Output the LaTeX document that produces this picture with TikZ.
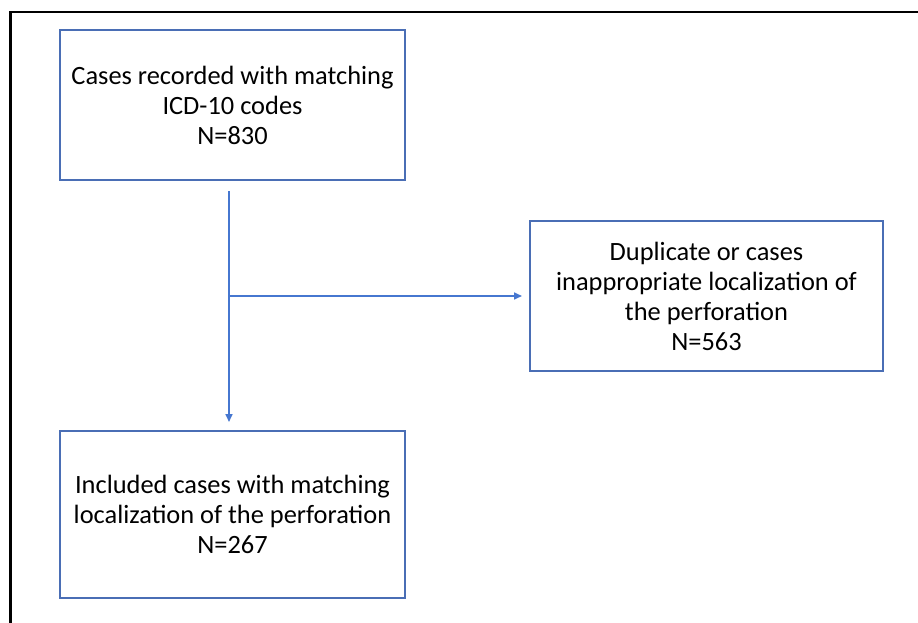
\documentclass[tikz,border=0pt]{standalone}
\usepackage{fontspec}
\setmainfont{Carlito}
\usetikzlibrary{arrows.meta}
\begin{document}
\begin{tikzpicture}[x=1pt,y=-1pt,
  boxst/.style={draw=boxblue,line width=1.6pt,minimum width=345pt,align=center,inner sep=0pt,font=\fontsize{26.4}{30}\selectfont},
  conn/.style={draw=lineblue,line width=1.6pt,-{Triangle[length=8pt,width=7pt]}}]
\definecolor{boxblue}{HTML}{4A6EB5}
\definecolor{lineblue}{HTML}{4677D0}
\useasboundingbox (0,0) rectangle (918,623);
\draw[line width=2.2pt,black] (10.5,640) -- (10.5,12) -- (930,12);
\node[boxst,minimum height=150pt] (a) at (232.5,105) {Cases recorded with matching\\ICD-10 codes\\N=830};
\node[boxst,minimum width=353pt,minimum height=150pt] (b) at (706.5,296) {Duplicate or cases\\inappropriate localization of\\the perforation\\N=563};
\node[boxst,minimum height=167pt] (c) at (232.5,514.5) {Included cases with matching\\localization of the perforation\\N=267};
\coordinate (top) at (229,191);
\coordinate (mid) at (229,296);
\coordinate (bot) at (229,422);
\coordinate (rt) at (522,296);
\draw[conn] (top) -- (bot);
\draw[conn] (mid) -- (rt);
\end{tikzpicture}
\end{document}
